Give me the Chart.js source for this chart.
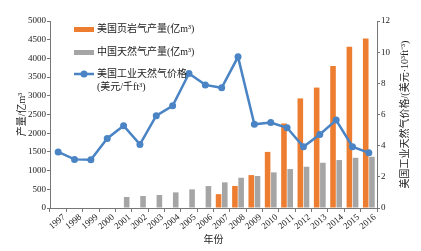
<!DOCTYPE html>
<html>
<head>
<meta charset="utf-8">
<script src="https://cdn.jsdelivr.net/npm/chart.js@4/dist/chart.umd.min.js"></script>
<style>
html,body{margin:0;padding:0;background:#fff;}
#wrap{width:421px;height:251px;position:relative;}
</style>
</head>
<body>
<div id="wrap"><canvas id="c" width="421" height="251"></canvas></div>
<script>
const years = ['1997','1998','1999','2000','2001','2002','2003','2004','2005','2006','2007','2008','2009','2010','2011','2012','2013','2014','2015','2016'];
const usShaleGas = [null,null,null,null,null,null,null,null,null,null,370,590,880,1500,2260,2930,3220,3800,4310,4530];
const chinaGas = [null,null,null,null,295,320,347,418,499,587,686,809,855,953,1041,1103,1210,1282,1343,1370];
const usGasPrice = [3.6,3.12,3.1,4.46,5.28,4.08,5.92,6.56,8.63,7.9,7.71,9.7,5.37,5.49,5.15,3.93,4.72,5.64,3.93,3.54];
const leftTicks = [0,500,1000,1500,2000,2500,3000,3500,4000,4500,5000];
const rightTicks = [0,2,4,6,8,10,12];
const labels = {
  shale: '美国页岩气产量(亿m³)',
  china: '中国天然气产量(亿m³)',
  price: ['美国工业天然气价格', '(美元/千ft³)'],
  yLeft: '产量/亿m³',
  yRight: '美国工业天然气价格/(美元·10³ft⁻³)',
  x: '年份'
};

const ORANGE = '#ed7d31', GREY = '#a5a5a5', BLUE = '#4a84c4', AXIS = '#777';
const FONT = "'Liberation Serif','Noto Sans CJK SC',serif";

const overlay = {
  id: 'overlay',
  afterDraw(chart) {
    const ctx = chart.ctx;
    const ca = chart.chartArea;
    ctx.save();
    ctx.font = '10px ' + FONT;
    ctx.fillStyle = '#222';
    ctx.textBaseline = 'middle';
    // legend
    const lx = ca.left + 24, tx = ca.left + 47;
    ctx.fillStyle = ORANGE; ctx.fillRect(lx, ca.top + 6, 20, 5);
    ctx.fillStyle = GREY; ctx.fillRect(lx, ca.top + 29, 20, 5);
    ctx.strokeStyle = BLUE; ctx.lineWidth = 2.5;
    ctx.beginPath(); ctx.moveTo(lx, ca.top + 53); ctx.lineTo(lx + 20, ca.top + 53); ctx.stroke();
    ctx.fillStyle = BLUE; ctx.beginPath(); ctx.arc(lx + 10, ca.top + 53, 3.5, 0, Math.PI * 2); ctx.fill();
    ctx.fillStyle = '#222';
    ctx.textAlign = 'left';
    ctx.fillText(labels.shale, tx, ca.top + 8.5);
    ctx.fillText(labels.china, tx, ca.top + 31.5);
    ctx.fillText(labels.price[0], tx, ca.top + 53);
    ctx.fillText(labels.price[1], tx, ca.top + 66);
    // y titles
    const cy = (ca.top + ca.bottom) / 2;
    ctx.textAlign = 'center';
    ctx.save(); ctx.translate(22, cy); ctx.rotate(-Math.PI / 2); ctx.fillText(labels.yLeft, 0, 0); ctx.restore();
    ctx.save(); ctx.translate(ca.right + 28, cy); ctx.rotate(-Math.PI / 2); ctx.fillText(labels.yRight, 0, 0); ctx.restore();
    ctx.restore();
  }
};

new Chart(document.getElementById('c'), {
  data: {
    labels: years,
    datasets: [
      { type: 'line', label: labels.price.join(''), data: usGasPrice, yAxisID: 'y2', borderColor: BLUE, backgroundColor: BLUE,
        borderWidth: 2.5, pointRadius: 3.5, pointBackgroundColor: BLUE, pointBorderWidth: 0, tension: 0, order: 0 },
      { type: 'bar', label: labels.shale, data: usShaleGas, yAxisID: 'y', backgroundColor: ORANGE, categoryPercentage: 0.76, barPercentage: 0.9, order: 1 },
      { type: 'bar', label: labels.china, data: chinaGas, yAxisID: 'y', backgroundColor: GREY, categoryPercentage: 0.76, barPercentage: 0.9, order: 2 }
    ]
  },
  options: {
    responsive: false,
    animation: false,
    layout: { padding: { top: 21, left: 0, right: 0, bottom: 0 } },
    plugins: { legend: { display: false }, tooltip: { enabled: false } },
    scales: {
      x: {
        type: 'category', offset: true,
        grid: { offset: true, drawOnChartArea: false, tickLength: 4, color: AXIS },
        border: { color: AXIS },
        ticks: { autoSkip: false, minRotation: 40, maxRotation: 40, labelOffset: 6, padding: 0, color: '#222', font: { family: FONT, size: 9 } },
        title: { display: true, text: labels.x, color: '#222', font: { family: FONT, size: 10 }, padding: { top: 0, bottom: 5 } },
        afterFit: s => { s.height = 43; }
      },
      y: {
        position: 'left', min: 0, max: 5000,
        afterBuildTicks: s => { s.ticks = leftTicks.map(v => ({ value: v })); },
        grid: { drawOnChartArea: false, tickLength: 3, color: AXIS },
        border: { color: AXIS },
        ticks: { padding: 1, color: '#222', font: { family: FONT, size: 9 }, callback: v => String(v) },
        afterFit: s => { s.width = 50; }
      },
      y2: {
        position: 'right', min: 0, max: 12,
        afterBuildTicks: s => { s.ticks = rightTicks.map(v => ({ value: v })); },
        grid: { drawOnChartArea: false, tickLength: 3, color: AXIS },
        border: { color: AXIS },
        ticks: { padding: 1, color: '#222', font: { family: FONT, size: 9 }, callback: v => String(v) },
        afterFit: s => { s.width = 44; }
      }
    }
  },
  plugins: [overlay]
});
</script>
</body>
</html>
